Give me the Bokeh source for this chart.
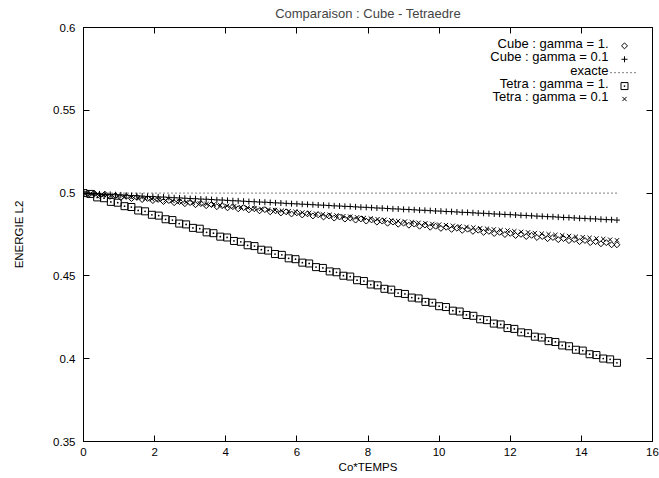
from bokeh.plotting import figure
from bokeh.models import (FixedTicker, LinearAxis, Label, Range1d, CustomLabelingPolicy)
from bokeh.embed import file_html
from bokeh.resources import INLINE

TITLE = "Comparaison : Cube - Tetraedre"
X_LABEL = "Co*TEMPS"
Y_LABEL = "ENERGIE L2"
X_TICKS = [0, 2, 4, 6, 8, 10, 12, 14, 16]
Y_TICKS = [0.35, 0.4, 0.45, 0.5, 0.55, 0.6]
Y_TICK_LABELS = ["0.35", "0.4", "0.45", "0.5", "0.55", "0.6"]

SERIES_NAMES = ["Cube : gamma = 1.", "Cube : gamma = 0.1", "exacte",
                "Tetra : gamma = 1.", "Tetra : gamma = 0.1"]

# time grid of the cube mesh
CUBE_T = [0.0, 0.15, 0.3, 0.45, 0.6, 0.75, 0.9, 1.05, 1.2, 1.35,
          1.5, 1.65, 1.8, 1.95, 2.1, 2.25, 2.4, 2.55, 2.7, 2.85,
          3.0, 3.15, 3.3, 3.45, 3.6, 3.75, 3.9, 4.05, 4.2, 4.35,
          4.5, 4.65, 4.8, 4.95, 5.1, 5.25, 5.4, 5.55, 5.7, 5.85,
          6.0, 6.15, 6.3, 6.45, 6.6, 6.75, 6.9, 7.05, 7.2, 7.35,
          7.5, 7.65, 7.8, 7.95, 8.1, 8.25, 8.4, 8.55, 8.7, 8.85,
          9.0, 9.15, 9.3, 9.45, 9.6, 9.75, 9.9, 10.05, 10.2, 10.35,
          10.5, 10.65, 10.8, 10.95, 11.1, 11.25, 11.4, 11.55, 11.7, 11.85,
          12.0, 12.15, 12.3, 12.45, 12.6, 12.75, 12.9, 13.05, 13.2, 13.35,
          13.5, 13.65, 13.8, 13.95, 14.1, 14.25, 14.4, 14.55, 14.7, 14.85,
          15.0]

CUBE_G1 = [0.5000, 0.4992, 0.4999, 0.4986, 0.4993, 0.4980, 0.4986, 0.4973, 0.4980, 0.4967,
           0.4974, 0.4961, 0.4968, 0.4955, 0.4962, 0.4949, 0.4955, 0.4942, 0.4949, 0.4936,
           0.4943, 0.4930, 0.4937, 0.4924, 0.4931, 0.4918, 0.4924, 0.4911, 0.4918, 0.4905,
           0.4912, 0.4899, 0.4906, 0.4893, 0.4900, 0.4887, 0.4893, 0.4880, 0.4887, 0.4874,
           0.4881, 0.4868, 0.4875, 0.4862, 0.4869, 0.4856, 0.4862, 0.4849, 0.4856, 0.4843,
           0.4850, 0.4837, 0.4844, 0.4831, 0.4838, 0.4825, 0.4831, 0.4818, 0.4825, 0.4812,
           0.4819, 0.4806, 0.4813, 0.4800, 0.4807, 0.4794, 0.4800, 0.4787, 0.4794, 0.4781,
           0.4788, 0.4775, 0.4782, 0.4769, 0.4776, 0.4763, 0.4769, 0.4756, 0.4763, 0.4750,
           0.4757, 0.4744, 0.4751, 0.4738, 0.4745, 0.4732, 0.4738, 0.4725, 0.4732, 0.4719,
           0.4726, 0.4713, 0.4720, 0.4707, 0.4714, 0.4701, 0.4707, 0.4694, 0.4701, 0.4688,
           0.4688]

CUBE_G01 = [0.5000, 0.4998, 0.4997, 0.4995, 0.4993, 0.4992, 0.4990, 0.4989, 0.4987, 0.4985,
            0.4984, 0.4982, 0.4980, 0.4979, 0.4977, 0.4976, 0.4974, 0.4972, 0.4971, 0.4969,
            0.4967, 0.4966, 0.4964, 0.4963, 0.4961, 0.4959, 0.4958, 0.4956, 0.4954, 0.4953,
            0.4951, 0.4949, 0.4948, 0.4946, 0.4945, 0.4943, 0.4941, 0.4940, 0.4938, 0.4936,
            0.4935, 0.4933, 0.4932, 0.4930, 0.4928, 0.4927, 0.4925, 0.4923, 0.4922, 0.4920,
            0.4919, 0.4917, 0.4915, 0.4914, 0.4912, 0.4910, 0.4909, 0.4907, 0.4905, 0.4904,
            0.4902, 0.4901, 0.4899, 0.4897, 0.4896, 0.4894, 0.4892, 0.4891, 0.4889, 0.4888,
            0.4886, 0.4884, 0.4883, 0.4881, 0.4879, 0.4878, 0.4876, 0.4874, 0.4873, 0.4871,
            0.4870, 0.4868, 0.4866, 0.4865, 0.4863, 0.4861, 0.4860, 0.4858, 0.4857, 0.4855,
            0.4853, 0.4852, 0.4850, 0.4848, 0.4847, 0.4845, 0.4844, 0.4842, 0.4840, 0.4839,
            0.4837]

# time grid of the tetrahedral mesh
TETRA_T = [0.0, 0.192, 0.385, 0.577, 0.769, 0.962, 1.154, 1.346, 1.538, 1.731,
           1.923, 2.115, 2.308, 2.5, 2.692, 2.885, 3.077, 3.269, 3.462, 3.654,
           3.846, 4.038, 4.231, 4.423, 4.615, 4.808, 5.0, 5.192, 5.385, 5.577,
           5.769, 5.962, 6.154, 6.346, 6.538, 6.731, 6.923, 7.115, 7.308, 7.5,
           7.692, 7.885, 8.077, 8.269, 8.462, 8.654, 8.846, 9.038, 9.231, 9.423,
           9.615, 9.808, 10.0, 10.192, 10.385, 10.577, 10.769, 10.962, 11.154, 11.346,
           11.538, 11.731, 11.923, 12.115, 12.308, 12.5, 12.692, 12.885, 13.077, 13.269,
           13.462, 13.654, 13.846, 14.038, 14.231, 14.423, 14.615, 14.808, 15.0]

TETRA_G1 = [0.5000, 0.4995, 0.4974, 0.4969, 0.4947, 0.4942, 0.4921, 0.4916, 0.4895, 0.4890,
            0.4869, 0.4864, 0.4842, 0.4837, 0.4816, 0.4811, 0.4790, 0.4785, 0.4763, 0.4758,
            0.4737, 0.4732, 0.4711, 0.4706, 0.4685, 0.4680, 0.4658, 0.4653, 0.4632, 0.4627,
            0.4606, 0.4601, 0.4580, 0.4575, 0.4553, 0.4548, 0.4527, 0.4522, 0.4501, 0.4496,
            0.4474, 0.4469, 0.4448, 0.4443, 0.4422, 0.4417, 0.4396, 0.4391, 0.4369, 0.4364,
            0.4343, 0.4338, 0.4317, 0.4312, 0.4290, 0.4285, 0.4264, 0.4259, 0.4238, 0.4233,
            0.4212, 0.4207, 0.4185, 0.4180, 0.4159, 0.4154, 0.4133, 0.4128, 0.4106, 0.4101,
            0.4080, 0.4075, 0.4054, 0.4049, 0.4027, 0.4022, 0.4001, 0.3996, 0.3975]

TETRA_G01 = [0.5000, 0.4996, 0.4993, 0.4989, 0.4985, 0.4982, 0.4978, 0.4974, 0.4971, 0.4967,
             0.4964, 0.4960, 0.4956, 0.4953, 0.4949, 0.4945, 0.4942, 0.4938, 0.4934, 0.4931,
             0.4927, 0.4923, 0.4920, 0.4916, 0.4912, 0.4909, 0.4905, 0.4901, 0.4898, 0.4894,
             0.4891, 0.4887, 0.4883, 0.4880, 0.4876, 0.4872, 0.4869, 0.4865, 0.4861, 0.4858,
             0.4854, 0.4850, 0.4847, 0.4843, 0.4839, 0.4836, 0.4832, 0.4828, 0.4825, 0.4821,
             0.4818, 0.4814, 0.4810, 0.4807, 0.4803, 0.4799, 0.4796, 0.4792, 0.4788, 0.4785,
             0.4781, 0.4777, 0.4774, 0.4770, 0.4766, 0.4763, 0.4759, 0.4755, 0.4752, 0.4748,
             0.4745, 0.4741, 0.4737, 0.4734, 0.4730, 0.4726, 0.4723, 0.4719, 0.4715]

EXACT_T = [0.0, 15.0]
EXACT_V = [0.5, 0.5]

FONT = "Liberation Sans"
AX_FS = "11.5px"
KEY_FS = "13px"

# frame geometry (pixels)
W, H = 659, 478
BL, BR, BT, BB = 83, 7, 24, 37
FW, FH = W - BL - BR, H - BT - BB

# gnuplot-style key layout, in frame pixels (x from left, y from bottom)
KEY_TEXT_RIGHT = 525
KEY_SAMPLE_X = 541
KEY_LINE_X0, KEY_LINE_X1 = 527, 555
KEY_ROW_Y = [398.5, 385, 371.5, 358, 345]

p = figure(width=W, height=H, x_range=Range1d(0, 16), y_range=Range1d(0.35, 0.6),
           output_backend="svg", toolbar_location=None, title=TITLE,
           min_border_left=BL, min_border_right=BR, min_border_top=BT, min_border_bottom=BB)
p.extra_x_ranges = {"key": Range1d(0, FW)}
p.extra_y_ranges = {"key": Range1d(0, FH)}

p.title.text_font = FONT
p.title.text_font_size = KEY_FS
p.title.text_font_style = "normal"
p.title.align = "center"
p.title.standoff = 6
p.title.offset = 0

p.grid.visible = False
p.outline_line_color = "black"
p.outline_line_width = 1
p.background_fill_color = "white"
p.border_fill_color = "white"

xax = p.xaxis[0]
yax = p.yaxis[0]
xax.ticker = FixedTicker(ticks=X_TICKS)
yax.ticker = FixedTicker(ticks=Y_TICKS)
yax.major_label_overrides = {t: s for t, s in zip(Y_TICKS, Y_TICK_LABELS)}
for ax in (xax, yax):
    ax.major_tick_in = 6
    ax.major_tick_out = 0
    ax.minor_tick_line_color = None
    ax.axis_line_color = "black"
    ax.major_tick_line_color = "black"
    ax.major_label_text_font = FONT
    ax.major_label_text_font_size = AX_FS
    ax.major_label_text_color = "black"
    ax.axis_label_text_font = FONT
    ax.axis_label_text_font_size = AX_FS
    ax.axis_label_text_font_style = "normal"
    ax.axis_label_text_color = "black"
xax.axis_label = X_LABEL
yax.axis_label = Y_LABEL
xax.major_label_standoff = 6
xax.axis_label_standoff = 2
yax.major_label_standoff = 8
yax.axis_label_standoff = 25

# mirror ticks on the top and right borders (no labels drawn)
no_labels = CustomLabelingPolicy(code="""
for (const i of indices) indices.unset(i)
return indices
""")
top = LinearAxis(ticker=FixedTicker(ticks=X_TICKS))
right = LinearAxis(ticker=FixedTicker(ticks=Y_TICKS))
for ax in (top, right):
    ax.major_tick_in = 6
    ax.major_tick_out = 0
    ax.minor_tick_line_color = None
    ax.axis_line_color = None
    ax.major_tick_line_color = "black"
    ax.major_label_text_font_size = "1px"
    ax.major_label_standoff = 0
    ax.major_label_policy = no_labels
p.add_layout(top, "above")
p.add_layout(right, "right")

STYLES = [
    dict(marker="square", angle=0.7854, size=4.2, fill_color=None, line_color="black", line_width=1),
    dict(marker="cross", size=6, line_color="black", line_width=1),
    None,
    dict(marker="square_dot", size=7, fill_color=None, line_color="black", line_width=1),
    dict(marker="x", size=6, line_color="black", line_width=1),
]
DATA = [(CUBE_T, CUBE_G1), (CUBE_T, CUBE_G01), None, (TETRA_T, TETRA_G1), (TETRA_T, TETRA_G01)]

for i, (name, st, d, ky) in enumerate(zip(SERIES_NAMES, STYLES, DATA, KEY_ROW_Y)):
    if st is None:
        p.line(EXACT_T, EXACT_V, line_color="black", line_width=1, line_dash="1 3")
        p.line([KEY_LINE_X0, KEY_LINE_X1], [ky, ky], x_range_name="key", y_range_name="key",
               line_color="black", line_width=1, line_dash="1 3")
    else:
        p.scatter(d[0], d[1], **st)
        p.scatter([KEY_SAMPLE_X], [ky], x_range_name="key", y_range_name="key", **st)
    p.add_layout(Label(x=KEY_TEXT_RIGHT, y=ky, x_units="screen", y_units="screen", text=name,
                       text_align="right", text_baseline="middle",
                       text_font=FONT, text_font_size=KEY_FS, text_color="black"))

open("out.html", "w").write(file_html(p, INLINE))
